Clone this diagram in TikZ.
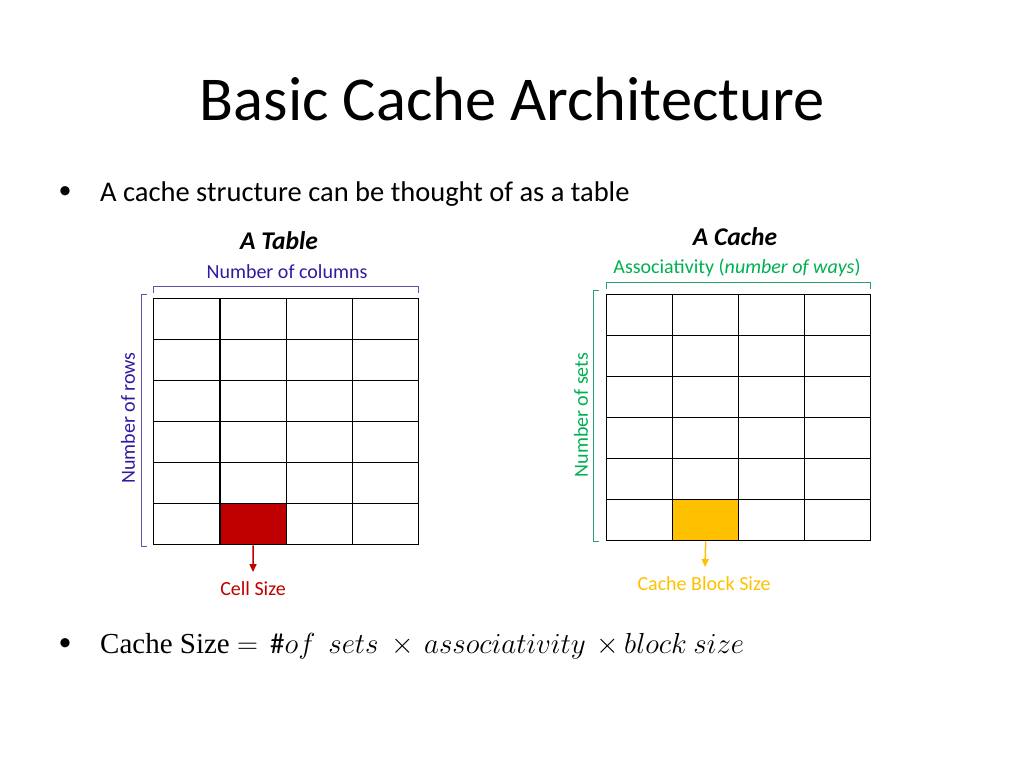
\RequirePackage{fix-cm}
\documentclass[tikz,border=0pt]{standalone}
\usepackage{fontspec}
\setmainfont{Carlito}
\newfontfamily\serifm{Liberation Serif}
\usetikzlibrary{arrows.meta}
\definecolor{tblue}{RGB}{46,28,160}
\definecolor{tbrace}{RGB}{96,80,170}
\definecolor{cgreen}{RGB}{0,176,80}
\definecolor{cbrace}{RGB}{40,160,110}
\definecolor{cred}{RGB}{192,0,0}
\definecolor{cyellow}{RGB}{255,192,0}
\tikzset{
  cellbox/.style={draw=black, line width=1.3pt, minimum width=66pt, minimum height=41pt, inner sep=0pt, anchor=north west},
  bracketl/.style={line width=1pt},
  lbl/.style={font=\fontsize{20}{22}\selectfont, inner sep=0pt},
  head/.style={font=\fontsize{25.5}{28}\selectfont\bfseries\itshape, inner sep=0pt},
  sizearrow/.style={line width=1.5pt, -{Triangle[length=8pt,width=7pt]}},
  formula/.style={font=\fontsize{29}{32}\selectfont, inner sep=0pt, anchor=base west},
}
\begin{document}
\begin{tikzpicture}[x=1pt,y=-1pt]
\useasboundingbox (0,0) rectangle (1024,768);
% title
\node[font=\fontsize{62.4}{68}\selectfont, inner sep=0pt] (title) at (512,99) {Basic Cache Architecture};
% bullet 1
\node[font=\fontsize{26}{28}\selectfont, inner sep=0pt] (b1) at (65,193) {•};
\node[font=\fontsize{28.5}{32}\selectfont, inner sep=0pt, anchor=west] (t1) at (100,194) {A cache structure can be thought of as a table};
% left table
\node[head] (htab) at (279,241) {A Table};
\node[lbl, text=tblue] (ncol) at (287,272) {Number of columns};
\foreach \c in {0,...,3}{
  \foreach \r in {0,...,5}{
    \node[cellbox, minimum width=66.25pt] (L\c\r) at (153+66.25*\c, 298+41*\r) {};
  }
}
\node[cellbox, minimum width=66.25pt, fill=cred] (Lcell) at (153+66.25, 298+41*5) {};
\draw[bracketl, tbrace] (153,293) -- (153,286) -- (418,286) -- (418,293);
\draw[bracketl, tbrace] (147,294) -- (141,294) -- (141,546) -- (147,546);
\node[lbl, text=tblue, rotate=90] (nrow) at (128,418) {Number of rows};
\coordinate (Larr) at (253,572);
\draw[sizearrow, cred] (Lcell.south) -- (Larr);
\node[lbl, text=cred] (lcs) at (253,589) {Cell Size};
% right cache
\node[head] (hcache) at (735,237) {A Cache};
\node[lbl, text=cgreen] (assoc) at (737,268) {Associativity (\textit{number of ways})};
\foreach \c in {0,...,3}{
  \foreach \r in {0,...,5}{
    \node[cellbox] (R\c\r) at (606+66*\c, 294+41*\r) {};
  }
}
\node[cellbox, fill=cyellow] (Rcell) at (606+66, 294+41*5) {};
\draw[bracketl, cbrace] (606,289) -- (606,282) -- (870,282) -- (870,289);
\draw[bracketl, cbrace] (599,290) -- (593,290) -- (593,541) -- (599,541);
\node[lbl, text=cgreen, rotate=90] (nsets) at (581,415) {Number of sets};
\coordinate (Rarr) at (705,567);
\draw[sizearrow, cyellow] (Rcell.south) -- (Rarr);
\node[lbl, text=cyellow] (cbs) at (704,584) {Cache Block Size};
% bullet 2
\node[font=\fontsize{26}{28}\selectfont, inner sep=0pt] (b2) at (65,645) {•};
\node[formula] (f1) at (100,653) {\serifm Cache Size $=$};
\node[formula] (f2) at (270,653) {$\#of\ \ sets$};
\node[formula] (x1) at (391,653) {$\times$};
\node[formula] (f3) at (424,653) {$associativity$};
\node[formula] (x2) at (596,653) {$\times$};
\node[formula] (f4) at (624,653) {$block\ size$};
\end{tikzpicture}
\end{document}
